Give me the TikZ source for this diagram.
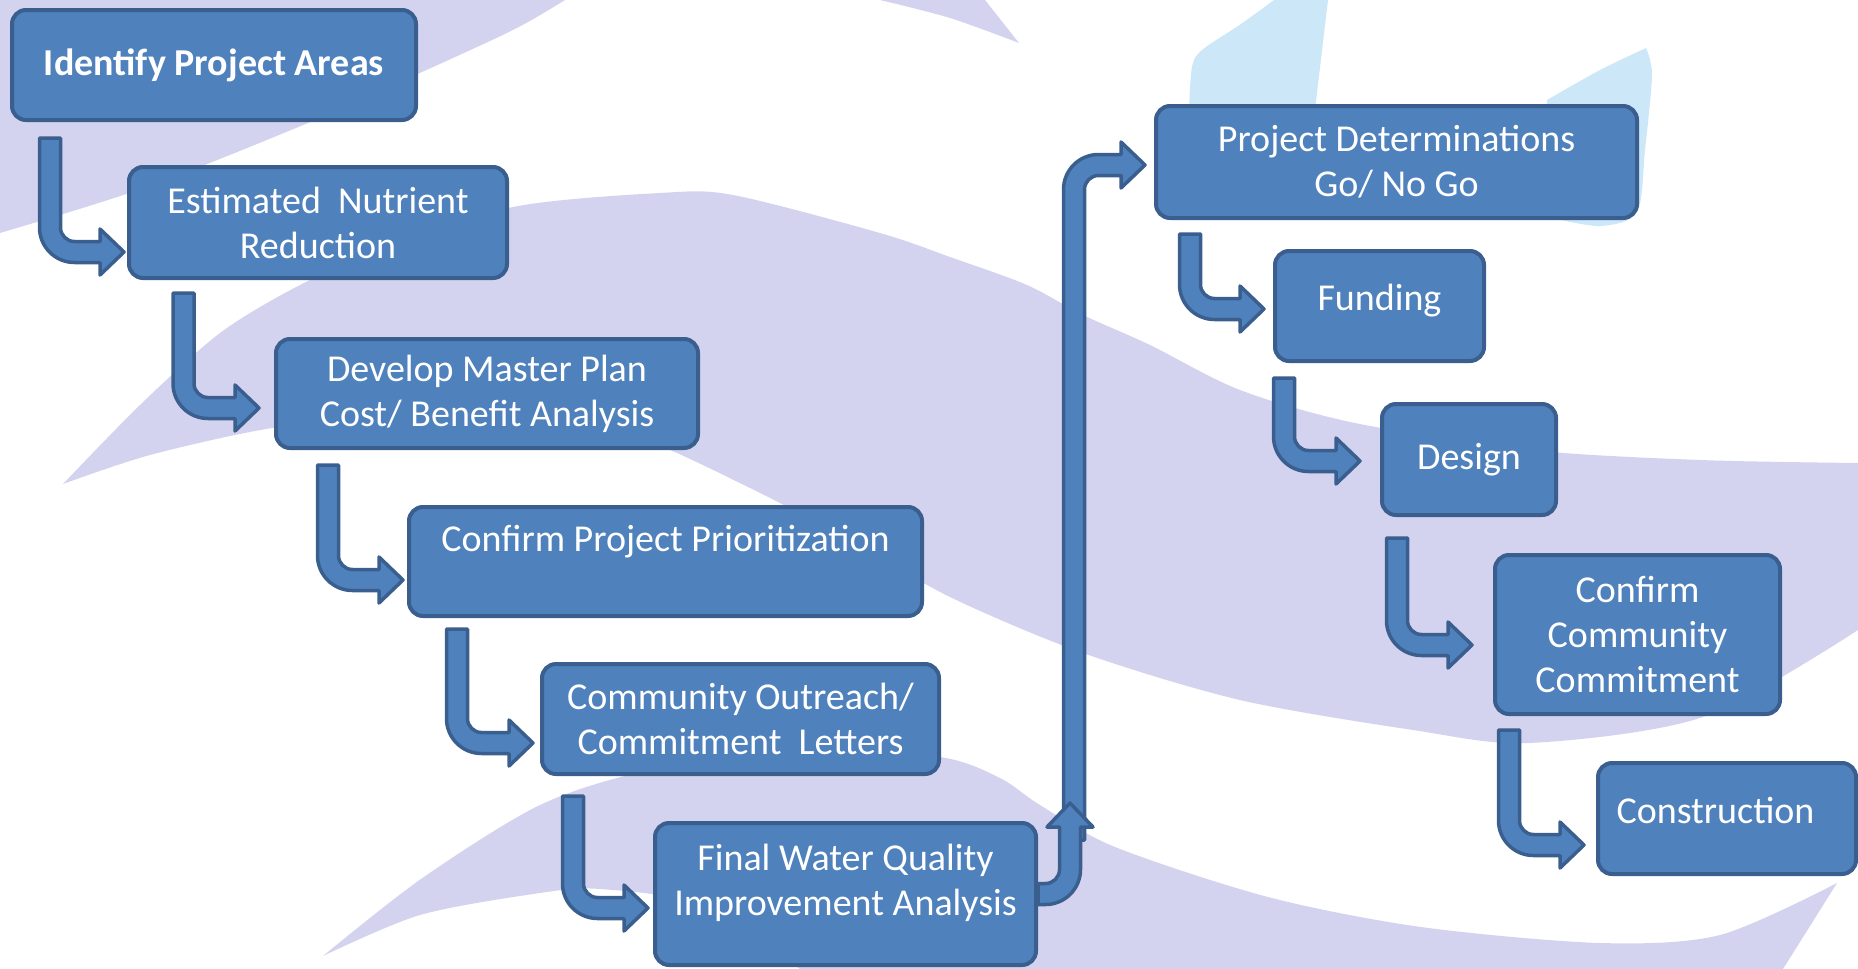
\documentclass[tikz,border=0pt]{standalone}
\usepackage{fontspec}
\setmainfont{Carlito}
\usepackage{xcolor}
\usetikzlibrary{calc}

\definecolor{stagefill}{HTML}{4F81BD}
\definecolor{stageline}{HTML}{3A5F8F}
\definecolor{wavelav}{HTML}{D3D3F0}
\definecolor{dropblue}{HTML}{CCE7F8}

\newcommand{\shaftw}{10.5pt}
\newcommand{\bendin}{14pt}
\newcommand{\bendout}{35pt}
\newcommand{\headlen}{24pt}
\newcommand{\headw}{23pt}

% block arrow: down (or up) from #1, then right into the tip #2
\newcommand{\bentedge}[2]{%
	\draw[blockarrow] let \p1=(#1), \p2=(#2), \n1={ifthenelse(\y1>\y2,1,-1)} in
		(\x1-\shaftw,\y1) -- (\x1-\shaftw,{\y2+(\n1)*(\bendout-\shaftw)})
		arc[start angle=180, end angle={180+90*(\n1)}, radius=\bendout]
		-- (\x2-\headlen,{\y2-(\n1)*\shaftw}) -- (\x2-\headlen,{\y2-(\n1)*\headw})
		-- (\x2,\y2)
		-- (\x2-\headlen,{\y2+(\n1)*\headw}) -- (\x2-\headlen,{\y2+(\n1)*\shaftw})
		-- ({\x1+\shaftw+\bendin},{\y2+(\n1)*\shaftw})
		arc[start angle={180+90*(\n1)}, end angle=180, radius=\bendin]
		-- (\x1+\shaftw,\y1) -- cycle;}

% block arrow: right from #1, then up into the tip #2
\newcommand{\riseedge}[2]{%
	\draw[blockarrow] let \p1=(#1), \p2=(#2) in
		(\x1,\y1+\shaftw) -- ({\x2-\shaftw-\bendin},\y1+\shaftw)
		arc[start angle=270, end angle=360, radius=\bendin]
		-- (\x2-\shaftw,\y2-\headlen) -- (\x2-\headw,\y2-\headlen) -- (\x2,\y2)
		-- (\x2+\headw,\y2-\headlen) -- (\x2+\shaftw,\y2-\headlen)
		-- (\x2+\shaftw,{\y1-\shaftw+\bendout})
		arc[start angle=0, end angle=-90, radius=\bendout]
		-- (\x1,\y1-\shaftw) -- cycle;}

\tikzset{
	stage/.style={draw=stageline, fill=stagefill, line width=4pt, rounded corners=14pt,
		anchor=north west, inner sep=0pt, align=center, text=white,
		font={\fontsize{38}{45}\selectfont}},
	blockarrow/.style={draw=stageline, fill=stagefill, line width=3.5pt, line join=round},
	wave/.style={fill=wavelav},
	drop/.style={fill=dropblue}
}

\begin{document}
\begin{tikzpicture}[x=1pt, y=-1pt]
	\useasboundingbox (0,0) rectangle (1858,969);

	\fill[wave] (0,0) -- plot[smooth] coordinates {(565,0) (513,30) (411,77) (308,123) (147,187) (0,233)} -- cycle;
	\fill[wave] plot[smooth] coordinates {(880,0) (950,18) (1019,43)} -- (985,0) -- cycle;
	\fill[wave] plot[smooth] coordinates {(63,484) (140,405) (220,333) (300,285) (381,250) (513,207) (660,193) (733,195) (880,233) (950,257) (1027,285) (1083,315) (1150,345) (1240,390) (1355,423) (1529,450) (1700,460) (1858,463)}
		-- (1858,630) -- plot[smooth] coordinates {(1858,630) (1703,717) (1529,743) (1413,730) (1240,700) (1083,653) (950,597) (850,540) (750,488) (645,440) (550,420) (400,415) (272,428) (150,455) (63,484)} -- cycle;
	\fill[wave] plot[smooth] coordinates {(323,956) (421,879) (540,805) (650,770) (800,748) (940,757) (1000,778) (1040,805) (1115,847) (1268,897) (1421,927) (1600,943) (1720,935) (1837,883)}
		-- (1783,969) -- (800,969) -- plot[smooth] coordinates {(800,969) (700,905) (600,889) (540,893) (420,915) (323,956)} -- cycle;
	\fill[drop] plot[smooth] coordinates {(1189,110) (1192,67) (1202,50) (1241,24) (1274,0)} -- (1328,0) -- (1315,110) -- cycle;
	\fill[drop] plot[smooth] coordinates {(1547,100) (1600,70) (1646,48)} -- plot[smooth] coordinates {(1646,48) (1652,75) (1645,150) (1637,212) (1600,226) (1548,217)} -- cycle;

	\node[stage, font={\fontsize{38}{45}\selectfont\bfseries}, minimum width=404pt, minimum height=110pt] (ident) at (10,8) {Identify Project Areas};
	\node[stage, minimum width=378pt, minimum height=111pt] (estim) at (127,165) {Estimated~ Nutrient\\Reduction};
	\node[stage, minimum width=422pt, minimum height=109pt] (master) at (274,337) {Develop Master Plan\\Cost/ Benefit Analysis};
	\node[stage, minimum width=513pt, minimum height=109pt] (prior) at (407,505) {Confirm Project Prioritization\\[-12pt]\strut};
	\node[stage, minimum width=397pt, minimum height=110pt] (outreach) at (540,662) {Community Outreach/\\Commitment~ Letters};
	\node[stage, minimum width=381pt, minimum height=142pt] (final) at (653,821) {Final Water Quality\\Improvement Analysis\\[-30pt]\strut};

	\node[stage, minimum width=481pt, minimum height=112pt] (determ) at (1154,104) {Project Determinations\\Go/ No Go};
	\node[stage, minimum width=209pt, minimum height=110pt] (funding) at (1273,249) {\raisebox{-4.5pt}[0pt][0pt]{Funding}};
	\node[stage, minimum width=174pt, minimum height=111pt] (design) at (1380,402) {Design};
	\node[stage, minimum width=285pt, minimum height=159pt] (commit) at (1493,553) {Confirm\\Community\\Commitment};
	\node[stage, minimum width=258pt, minimum height=111pt] (constr) at (1596,761) {\raisebox{-5pt}[0pt][0pt]{Construction}\hspace*{23pt}};

	\bentedge{$(ident.south west)+(40,16)$}{$(estim.west)+(-3,29.5)$}
	\bentedge{$(estim.south west)+(56.5,13)$}{$(master.west)+(-15,14.5)$}
	\bentedge{$(master.south west)+(54,15)$}{$(prior.west)+(-4,18.5)$}
	\bentedge{$(prior.south west)+(50,11)$}{$(outreach.west)+(-7,24)$}
	\bentedge{$(outreach.south west)+(33,20)$}{$(final.west)+(-5,14)$}

	\bentedge{$(final.north east)+(36,19)$}{$(determ.west)+(-9,3)$}
	\riseedge{final.east}{$(final.north east)+(32,-18)$}

	\bentedge{$(determ.south west)+(36,14)$}{$(funding.west)+(-9,3)$}
	\bentedge{$(funding.south west)+(11,15)$}{$(design.west)+(-20,1.5)$}
	\bentedge{$(design.south west)+(17,21)$}{$(commit.west)+(-21,10.5)$}
	\bentedge{$(commit.south west)+(16,14)$}{$(constr.west)+(-12,26.5)$}
\end{tikzpicture}
\end{document}
